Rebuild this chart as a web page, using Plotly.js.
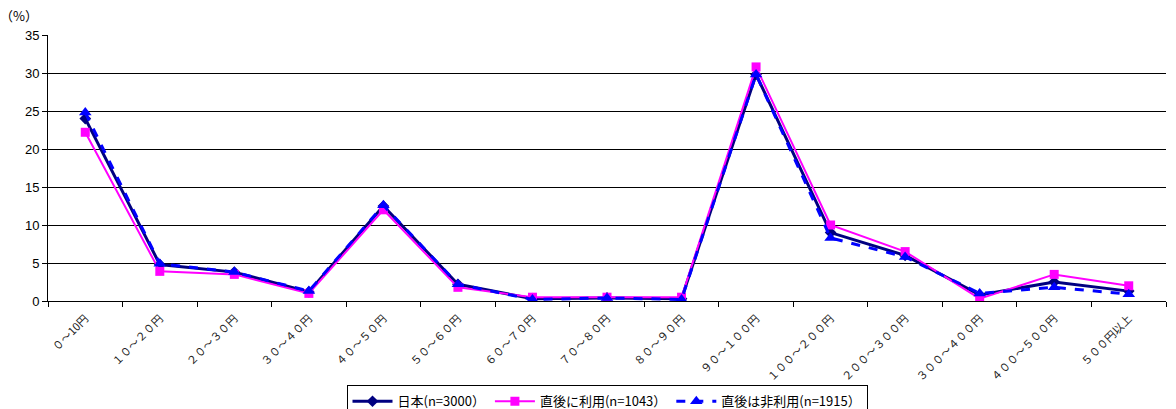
<!DOCTYPE html>
<html><head><meta charset="utf-8">
<script src="https://cdn.plot.ly/plotly-3.0.1.min.js"></script>
<style>body{margin:0;background:#fff}#c{width:1176px;height:409px}</style>
</head><body><div id="c"></div>
<script>
const categories = ["０～10円","１０～２０円","２０～３０円","３０～４０円","４０～５０円","５０～６０円","６０～７０円","７０～８０円","８０～９０円","９０～１００円","１００～２００円","２００～３００円","３００～４００円","４００～５００円","５００円以上"];
const japan = [24.0, 4.8, 3.8, 1.2, 12.5, 2.2, 0.3, 0.4, 0.3, 29.8, 9.0, 6.0, 0.8, 2.5, 1.3];
const usedAfter = [22.2, 3.9, 3.5, 1.0, 12.0, 1.8, 0.5, 0.5, 0.5, 30.8, 10.0, 6.5, 0.3, 3.5, 2.0];
const notUsedAfter = [24.8, 4.9, 3.8, 1.3, 12.6, 2.2, 0.2, 0.4, 0.2, 29.8, 8.3, 5.8, 1.0, 1.8, 0.9];
const seriesNames = ["日本(n=3000）", "直後に利用(n=1043）", "直後は非利用(n=1915）"];
const yTicks = [0, 5, 10, 15, 20, 25, 30, 35];

const font = "'Noto Sans CJK JP', 'Liberation Sans', sans-serif";
const traces = [
  {x: categories, y: japan, name: seriesNames[0], type: "scatter", mode: "lines+markers",
   line: {color: "#000080", width: 3}, marker: {symbol: "diamond", size: 9, color: "#000080"}},
  {x: categories, y: usedAfter, name: seriesNames[1], type: "scatter", mode: "lines+markers",
   line: {color: "#FF00FF", width: 2}, marker: {symbol: "square", size: 9, color: "#FF00FF"}},
  {x: categories, y: notUsedAfter, name: seriesNames[2], type: "scatter", mode: "lines+markers",
   line: {color: "#0000FF", width: 3, dash: "dash"}, marker: {symbol: "triangle-up", size: 11, color: "#0000FF"}}
];
const layout = {
  width: 1176, height: 409,
  margin: {l: 48, r: 10, t: 35, b: 108},
  paper_bgcolor: "#fff", plot_bgcolor: "#fff",
  font: {family: font, size: 12, color: "#000"},
  showlegend: true,
  legend: {orientation: "h", x: 0.5, xanchor: "center", yref: "container", y: 0.058, yanchor: "top",
    bordercolor: "#000", borderwidth: 1, font: {size: 13, color: "#000"},
    itemwidth: 40, tracegroupgap: 0},
  xaxis: {type: "category", tickson: "boundaries", ticks: "outside", ticklen: 5, automargin: false,
    tickcolor: "#000", showline: true, linecolor: "#000", linewidth: 1, ticklabelstandoff: 6,
    showgrid: false, tickangle: -45, tickfont: {size: 11, color: "#222"},
    range: [-0.5, categories.length - 0.5]},
  yaxis: {range: [0, 35], tickvals: yTicks, ticks: "outside", ticklen: 5, tickcolor: "#000", automargin: false,
    showline: true, linecolor: "#000", linewidth: 1, showgrid: true, gridcolor: "#000", gridwidth: 1,
    zeroline: false, tickfont: {family: "'Liberation Sans', Arial, sans-serif", size: 13, color: "#000"}},
  annotations: [{text: "（%）", xref: "paper", yref: "paper", x: -0.045, y: 1.03, xanchor: "left", yanchor: "bottom",
    showarrow: false, font: {size: 13, color: "#000"}}]
};
Plotly.newPlot("c", traces, layout, {displayModeBar: false});
</script></body></html>
